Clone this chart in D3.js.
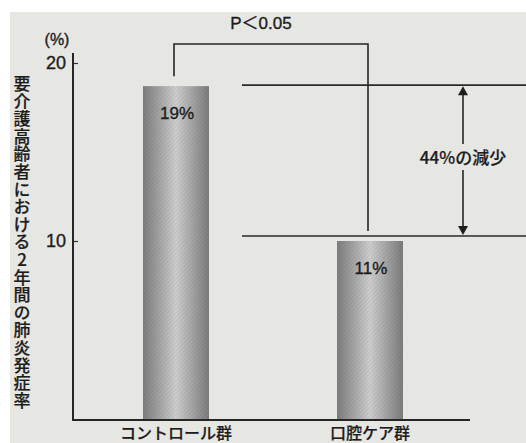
<!DOCTYPE html>
<html>
<head>
<meta charset="utf-8">
<script src="https://cdn.jsdelivr.net/npm/d3@7"></script>
<style>
  html, body { margin: 0; padding: 0; background: #ffffff; }
  svg { display: block; }
  text { font-family: "Liberation Sans", Arial, "Noto Sans CJK JP", sans-serif; fill: #1c1c1c; stroke: #1c1c1c; stroke-width: 0.35px; }
  .jp { font-family: "Noto Sans CJK JP", "Liberation Sans", sans-serif; font-weight: 500; stroke-width: 0.2px; }
</style>
</head>
<body>
<svg id="chart" width="526" height="443"></svg>
<script>
// ---- data ----
const categories = ["コントロール群", "口腔ケア群"];
const values = [18.7, 10.0];            // bar heights as drawn (%)
const valueLabels = ["19%", "11%"];
const yTicks = [10, 20];
const yUnit = "(%)";
const yTitle = "要介護高齢者における2年間の肺炎発症率";
const pText = "P＜0.05";
const reductionText = "44%の減少";

// ---- layout ----
const W = 526, H = 443;
const svg = d3.select("#chart");

// background: gray page with white margin top/left
svg.append("rect").attr("x", 0).attr("y", 0).attr("width", W).attr("height", H).attr("fill", "#ffffff");
svg.append("rect").attr("x", 10).attr("y", 12).attr("width", W - 10).attr("height", H - 12).attr("fill", "#e6e6e3");

const axisX = 73, baseY = 420;
const y = d3.scaleLinear().domain([0, 20]).range([419, 63]);
const x = d3.scaleBand().domain(categories).range([79, 467]).paddingInner(0.66).paddingOuter(0.33);

// gradient for bars
const defs = svg.append("defs");
const grad = defs.append("linearGradient").attr("id", "barGrad").attr("x1", "0").attr("x2", "1").attr("y1", "0").attr("y2", "0");
[["0%", "#7e7e7e"], ["18%", "#9a9a9a"], ["50%", "#cfcfcf"], ["82%", "#9a9a9a"], ["100%", "#7c7c7c"]]
  .forEach(([o, c]) => grad.append("stop").attr("offset", o).attr("stop-color", c));
const pat = defs.append("pattern").attr("id", "dots").attr("width", 3).attr("height", 3)
  .attr("patternUnits", "userSpaceOnUse").attr("patternTransform", "rotate(45)");
pat.append("rect").attr("width", 1.2).attr("height", 3).attr("fill", "#000").attr("opacity", 0.07);

// bars
const bars = svg.append("g");
bars.selectAll("rect.bar").data(values).join("rect")
  .attr("class", "bar")
  .attr("x", (d, i) => x(categories[i]))
  .attr("y", d => y(d))
  .attr("width", x.bandwidth())
  .attr("height", d => baseY - y(d))
  .attr("fill", "url(#barGrad)");
bars.selectAll("rect.tex").data(values).join("rect")
  .attr("class", "tex")
  .attr("x", (d, i) => x(categories[i]))
  .attr("y", d => y(d))
  .attr("width", x.bandwidth())
  .attr("height", d => baseY - y(d))
  .attr("fill", "url(#dots)");

// value labels
svg.selectAll("text.val").data(values).join("text")
  .attr("class", "val")
  .attr("x", (d, i) => x(categories[i]) + x.bandwidth() / 2 + 1)
  .attr("y", d => y(d) + 33)
  .attr("text-anchor", "middle")
  .attr("font-size", 17)
  .text((d, i) => valueLabels[i]);

// axes
const yAxis = d3.axisRight(y).tickValues(yTicks).tickSize(5).tickFormat("");
const gy = svg.append("g").attr("transform", `translate(${axisX},0)`).call(yAxis);
gy.select(".domain").remove();
gy.selectAll(".tick line").attr("stroke", "#333").attr("stroke-width", 1.2);
svg.append("line").attr("x1", axisX).attr("x2", axisX).attr("y1", 53).attr("y2", baseY + 1)
  .attr("stroke", "#262626").attr("stroke-width", 2);
svg.selectAll("text.ytick").data(yTicks).join("text")
  .attr("class", "ytick")
  .attr("x", axisX - 7).attr("y", d => y(d) + 6)
  .attr("text-anchor", "end").attr("font-size", 18)
  .text(d => d);
svg.append("text").attr("x", 57).attr("y", 45).attr("text-anchor", "middle").attr("font-size", 16).text(yUnit);

// baseline
svg.append("line").attr("x1", axisX - 1).attr("x2", 470).attr("y1", baseY).attr("y2", baseY)
  .attr("stroke", "#262626").attr("stroke-width", 2);

// category labels
const xAxis = d3.axisBottom(x).tickSize(0);
const gx = svg.append("g").attr("transform", `translate(0,${baseY})`).call(xAxis);
gx.select(".domain").remove();
gx.selectAll(".tick text").attr("class", "jp").attr("font-size", 16).attr("dy", 0).attr("y", 19)
  .attr("fill", "#1c1c1c").attr("font-family", "Noto Sans CJK JP, sans-serif");

// y title (vertical)
svg.append("text")
  .attr("class", "jp")
  .attr("x", 22).attr("y", 75)
  .attr("font-size", 17)
  .style("writing-mode", "vertical-rl")
  .style("text-orientation", "upright")
  .style("letter-spacing", "0.6px")
  .text(yTitle);

// significance bracket
const cx0 = x(categories[0]) + x.bandwidth() / 2 - 2;
const cx1 = x(categories[1]) + x.bandwidth() / 2 - 2;
const bracketY = 44;
svg.append("path")
  .attr("d", `M${cx0},${y(values[0]) - 10}V${bracketY}H${cx1}V${y(values[1]) - 10}`)
  .attr("fill", "none").attr("stroke", "#262626").attr("stroke-width", 1.6);
svg.append("text").attr("x", 261).attr("y", 29).attr("text-anchor", "middle").attr("font-size", 17).text(pText);

// reference lines
const refTop = y(values[0]) - 1, refBot = y(values[1]) - 5;
const refX0 = 242;
[refTop, refBot].forEach(yy => {
  svg.append("line").attr("x1", refX0).attr("x2", W).attr("y1", yy).attr("y2", yy)
    .attr("stroke", "#2a2a2a").attr("stroke-width", 1.6);
});

// double arrow with label
const ax = 463;
const labelY = 158;
svg.append("line").attr("x1", ax).attr("x2", ax).attr("y1", refTop + 8).attr("y2", labelY - 14)
  .attr("stroke", "#262626").attr("stroke-width", 1.6);
svg.append("line").attr("x1", ax).attr("x2", ax).attr("y1", labelY + 12).attr("y2", refBot - 8)
  .attr("stroke", "#262626").attr("stroke-width", 1.6);
svg.append("path").attr("d", `M${ax},${refTop + 1}L${ax - 5},${refTop + 10}L${ax + 5},${refTop + 10}Z`).attr("fill", "#1e1e1e");
svg.append("path").attr("d", `M${ax},${refBot - 1}L${ax - 5},${refBot - 10}L${ax + 5},${refBot - 10}Z`).attr("fill", "#1e1e1e");
svg.append("text").attr("class", "jp").attr("x", ax).attr("y", labelY + 6).attr("text-anchor", "middle")
  .attr("font-size", 17).text(reductionText);
</script>
</body>
</html>
